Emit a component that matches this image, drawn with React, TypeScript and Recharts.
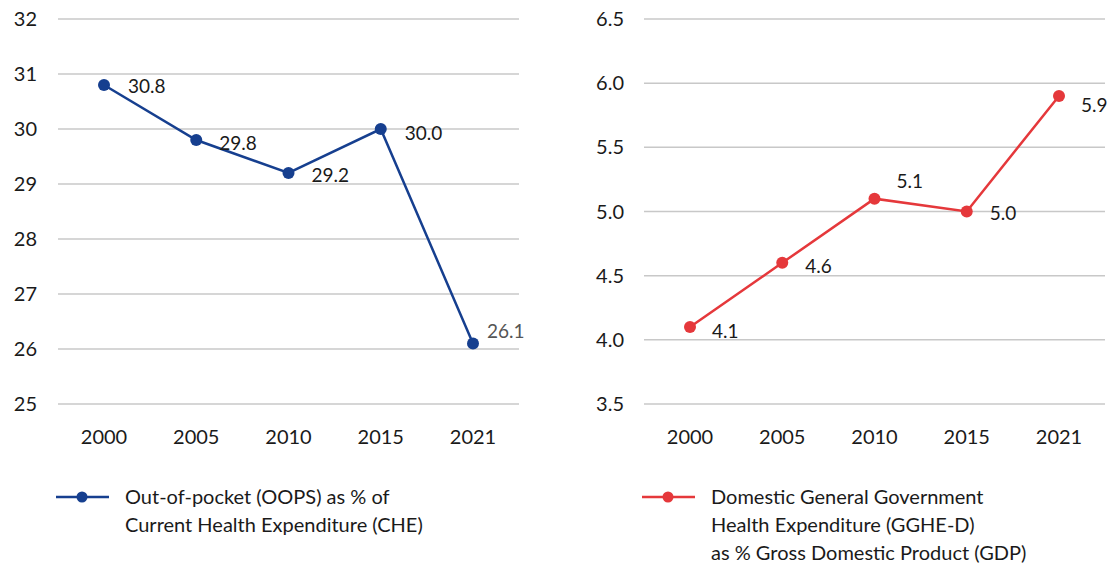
import React from "react";
import { LineChart, Line, XAxis, YAxis, CartesianGrid, LabelList } from "recharts";

const years = ["2000", "2005", "2010", "2015", "2021"];
const oopsShare = [30.8, 29.8, 29.2, 30.0, 26.1];
const gghedShare = [4.1, 4.6, 5.1, 5.0, 5.9];

const oopsTicks = [25, 26, 27, 28, 29, 30, 31, 32];
const gghedTicks = [3.5, 4.0, 4.5, 5.0, 5.5, 6.0, 6.5];

const oopsLegend = ["Out-of-pocket (OOPS) as % of", "Current Health Expenditure (CHE)"];
const gghedLegend = [
  "Domestic General Government",
  "Health Expenditure (GGHE-D)",
  "as % Gross Domestic Product (GDP)",
];

// label nudges relative to each point
const oopsLabelShift = [
  { dx: 24, dy: 0 },
  { dx: 23, dy: 2 },
  { dx: 23, dy: 1 },
  { dx: 24, dy: 3 },
  { dx: 14, dy: -13 },
];
const gghedLabelShift = [
  { dx: 22, dy: 3 },
  { dx: 23, dy: 3 },
  { dx: 22, dy: -18 },
  { dx: 23, dy: 1 },
  { dx: 22, dy: 8 },
];

const FONT = "Lato, 'Open Sans', sans-serif";
const TEXT = "#1a1a1a";
const BLUE = "#163f8f";
const RED = "#e5383b";
const GRID = "#c8c8c8";

const oopsData = years.map((year, i) => ({ year, value: oopsShare[i] }));
const gghedData = years.map((year, i) => ({ year, value: gghedShare[i] }));

function makeLabel(shift: { dx: number; dy: number }[], lastColor?: string) {
  return (props: any) => {
    const { x, y, value, index } = props;
    const s = shift[index] || { dx: 22, dy: 0 };
    const color = lastColor && index === shift.length - 1 ? lastColor : TEXT;
    return (
      <text
        x={x + s.dx}
        y={y + s.dy}
        fill={color}
        fontSize={19}
        fontFamily={FONT}
        dominantBaseline="central"
      >
        {Number(value).toFixed(1)}
      </text>
    );
  };
}

function LegendBlock({ color, lines, left }: { color: string; lines: string[]; left: number }) {
  return (
    <div style={{ position: "absolute", left, top: 482, fontFamily: FONT, fontSize: 20, color: TEXT }}>
      <svg width={54} height={30} style={{ position: "absolute", left: 0, top: 0 }}>
        <line x1={0} y1={15} x2={53} y2={15} stroke={color} strokeWidth={2.5} />
        <circle cx={26} cy={15} r={5.5} fill={color} />
      </svg>
      <div style={{ marginLeft: 69, lineHeight: "28px" }}>
        {lines.map((l) => (
          <div key={l}>{l}</div>
        ))}
      </div>
    </div>
  );
}

export default function App() {
  const tickStyle = { fill: TEXT, fontSize: 20, fontFamily: FONT };
  const xPad = { left: 46, right: 46 };
  return (
    <div style={{ position: "absolute", left: 0, top: 0, width: 1113, height: 567, background: "#fff" }}>
      <div style={{ position: "absolute", left: 0, top: 0 }}>
        <LineChart width={556} height={567} data={oopsData} margin={{ top: 19, right: 37, left: 0, bottom: 133 }}>
          <CartesianGrid vertical={false} stroke={GRID} strokeWidth={1.5} />
          <XAxis
            dataKey="year"
            padding={xPad}
            axisLine={false}
            tickLine={false}
            tickSize={0}
            tickMargin={26}
            height={30}
            tick={tickStyle}
          />
          <YAxis
            domain={[25, 32]}
            ticks={oopsTicks}
            axisLine={false}
            tickLine={false}
            tickSize={0}
            tickMargin={21}
            width={58}
            tick={tickStyle}
          />
          <Line
            dataKey="value"
            stroke={BLUE}
            strokeWidth={2.5}
            dot={{ r: 6, fill: BLUE, stroke: BLUE, strokeWidth: 0 }}
            isAnimationActive={false}
          >
            <LabelList dataKey="value" content={makeLabel(oopsLabelShift, "#555555")} />
          </Line>
        </LineChart>
      </div>
      <div style={{ position: "absolute", left: 556, top: 0 }}>
        <LineChart width={557} height={567} data={gghedData} margin={{ top: 19, right: 8, left: 0, bottom: 133 }}>
          <CartesianGrid vertical={false} stroke={GRID} strokeWidth={1.5} />
          <XAxis
            dataKey="year"
            padding={xPad}
            axisLine={false}
            tickLine={false}
            tickSize={0}
            tickMargin={26}
            height={30}
            tick={tickStyle}
          />
          <YAxis
            domain={[3.5, 6.5]}
            ticks={gghedTicks}
            axisLine={false}
            tickLine={false}
            tickSize={0}
            tickMargin={20}
            width={88}
            tick={tickStyle}
            tickFormatter={(v: number) => v.toFixed(1)}
          />
          <Line
            dataKey="value"
            stroke={RED}
            strokeWidth={2.5}
            dot={{ r: 6, fill: RED, stroke: RED, strokeWidth: 0 }}
            isAnimationActive={false}
          >
            <LabelList dataKey="value" content={makeLabel(gghedLabelShift)} />
          </Line>
        </LineChart>
      </div>
      <LegendBlock color={BLUE} lines={oopsLegend} left={56} />
      <LegendBlock color={RED} lines={gghedLegend} left={642} />
    </div>
  );
}
